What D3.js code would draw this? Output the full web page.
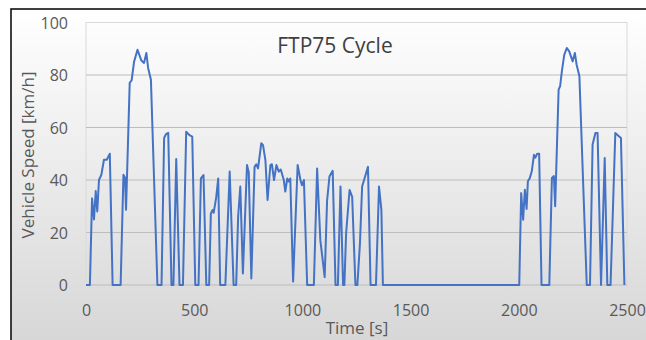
<!DOCTYPE html>
<html>
<head>
<meta charset="utf-8">
<script src="https://cdn.jsdelivr.net/npm/d3@7"></script>
<style>
  body { margin: 0; background: #fff; }
  svg { display: block; }
  .tick text { font-family: "Open Sans", sans-serif; font-size: 16px; fill: #595959; }
  .label { font-family: "Open Sans", sans-serif; font-size: 17px; fill: #595959; }
  .title { font-family: "Open Sans", sans-serif; font-size: 21px; fill: #404040; }
</style>
</head>
<body>
<svg width="646" height="340"></svg>
<script>
// **** data ****
var timeS = [0, 18, 28, 37, 45, 52, 60, 71, 83, 96, 110, 123, 160, 173, 180, 185, 202, 211, 222, 238,
    256, 268, 279, 287, 300, 330, 349, 361, 370, 380, 395, 404, 417, 432, 448, 463, 478, 491, 505, 520,
    531, 543, 556, 569, 577, 585, 590, 602, 611, 620, 644, 664, 682, 694, 703, 713, 725, 744, 752, 764,
    779, 787, 795, 810, 818, 829, 839, 852, 859, 869, 880, 891, 900, 914, 921, 930, 936, 944, 957, 978,
    991, 998, 1007, 1022, 1053, 1068, 1083, 1103, 1114, 1125, 1140, 1153, 1164, 1176, 1188, 1194, 1202, 1218, 1230, 1245,
    1254, 1266, 1276, 1287, 1303, 1315, 1340, 1354, 1365, 1372,
    2002, 2011, 2020, 2028, 2036, 2042, 2051, 2060, 2070, 2076, 2085, 2094, 2105, 2141, 2153, 2162, 2168, 2184,
    2191, 2199, 2210, 2222, 2233, 2249, 2259, 2267, 2280, 2314, 2329, 2341, 2354, 2364, 2380, 2397, 2409, 2424,
    2446, 2461, 2472, 2488]
var speedKmh = [0, 0, 33, 25, 35.8, 28, 40, 42, 47.7, 47.7, 50, 0, 0, 42, 41, 28.7, 77, 78, 85, 89.6,
    85.5, 84.6, 88.4, 82.7, 78.2, 0, 0, 56, 57.5, 58, 0, 0, 48, 0, 0, 58.4, 57.1, 56.5, 0, 0,
    40.6, 41.9, 0, 0, 27.3, 28.6, 27.5, 33.6, 40.6, 0, 0, 43.2, 0, 0, 26, 37.5, 4.4, 45.7, 43, 2.5,
    45, 46, 44.4, 54, 53.3, 47.6, 32.4, 45.7, 46, 40, 45.7, 43.2, 44, 40, 35.6, 40.6, 39.4, 40.6, 1.3, 45.7,
    40, 38, 40, 0, 0, 44.4, 17, 3, 32, 41.3, 43.5, 0, 0, 37.5, 0, 0, 19.7, 36.2, 33.6, 0,
    0, 15.9, 37.5, 40.6, 45, 0, 0, 37.5, 28.6, 0,
    0, 35, 24.9, 36.3, 29, 39.5, 40.8, 43.3, 49.6, 48.5, 50, 50, 0, 0, 40.8, 41.5, 30, 74.4,
    75.8, 81.4, 87.7, 90.3, 89, 85.2, 88.4, 84, 79.5, 0, 0, 53.5, 57.9, 57.9, 0, 48.4, 0, 0,
    57.9, 56.8, 56, 0]
var xTicks = [0, 500, 1000, 1500, 2000, 2500]
var yTicks = [0, 20, 40, 60, 80, 100]

var svg = d3.select('svg')

// background gradient like the Excel chart area
var grad = svg.append('defs').append('linearGradient')
    .attr('id', 'bg').attr('x1', 0).attr('y1', 0).attr('x2', 0).attr('y2', 1)
grad.append('stop').attr('offset', '0%').attr('stop-color', '#ffffff')
grad.append('stop').attr('offset', '100%').attr('stop-color', '#d6d6d6')

svg.append('rect')
    .attr('x', 11).attr('y', 9).attr('width', 640).attr('height', 340)
    .attr('fill', 'url(#bg)')
    .attr('stroke', '#111').attr('stroke-width', 1.6)

// **** scales ****
var xScale = d3.scaleLinear().domain([0, 2500]).range([86, 627])
var yScale = d3.scaleLinear().domain([0, 100]).range([285, 22.5])

// plot area border
svg.append('rect')
    .attr('x', xScale(0)).attr('y', yScale(100))
    .attr('width', xScale(2500) - xScale(0)).attr('height', yScale(0) - yScale(100))
    .attr('fill', 'none').attr('stroke', '#d9d9d9')

// gridlines
svg.append('g')
    .selectAll('line')
    .data(yTicks)
    .enter()
    .append('line')
    .attr('x1', xScale(0)).attr('x2', xScale(2500))
    .attr('y1', function(d) { return yScale(d) })
    .attr('y2', function(d) { return yScale(d) })
    .attr('stroke', function(d) { return d == 100 ? '#d9d9d9' : '#bdbdbd' })
    .attr('stroke-width', 1)

// axes (labels only)
var xAxis = svg.append('g').attr('class', 'x axis')
    .attr('transform', 'translate(0,' + yScale(0) + ')')
    .call(d3.axisBottom(xScale).tickValues(xTicks).tickSize(0).tickPadding(20)
        .tickFormat(function(d) { return d }))
xAxis.select('.domain').remove()

var yAxis = svg.append('g').attr('class', 'y axis')
    .attr('transform', 'translate(' + xScale(0) + ',0)')
    .call(d3.axisLeft(yScale).tickValues(yTicks).tickSize(0).tickPadding(18))
yAxis.select('.domain').remove()
yAxis.selectAll('.tick text').attr('dy', '0.35em')

// speed trace
var pts = timeS.map(function(t, i) { return [t, speedKmh[i]] })
svg.append('path')
    .datum(pts)
    .attr('fill', 'none')
    .attr('stroke', '#4472c4')
    .attr('stroke-width', 2)
    .attr('stroke-linejoin', 'round')
    .attr('d', d3.line()
        .x(function(d) { return xScale(d[0]) })
        .y(function(d) { return yScale(d[1]) }))

// titles
svg.append('text')
    .attr('class', 'title')
    .attr('text-anchor', 'middle')
    .attr('x', 335).attr('y', 53)
    .text('FTP75 Cycle')

svg.append('text')
    .attr('class', 'label')
    .attr('text-anchor', 'middle')
    .attr('x', 357).attr('y', 334)
    .text('Time [s]')

svg.append('text')
    .attr('class', 'label')
    .attr('text-anchor', 'middle')
    .attr('transform', 'translate(34,155) rotate(-90)')
    .text('Vehicle Speed [km/h]')
</script>
</body>
</html>
